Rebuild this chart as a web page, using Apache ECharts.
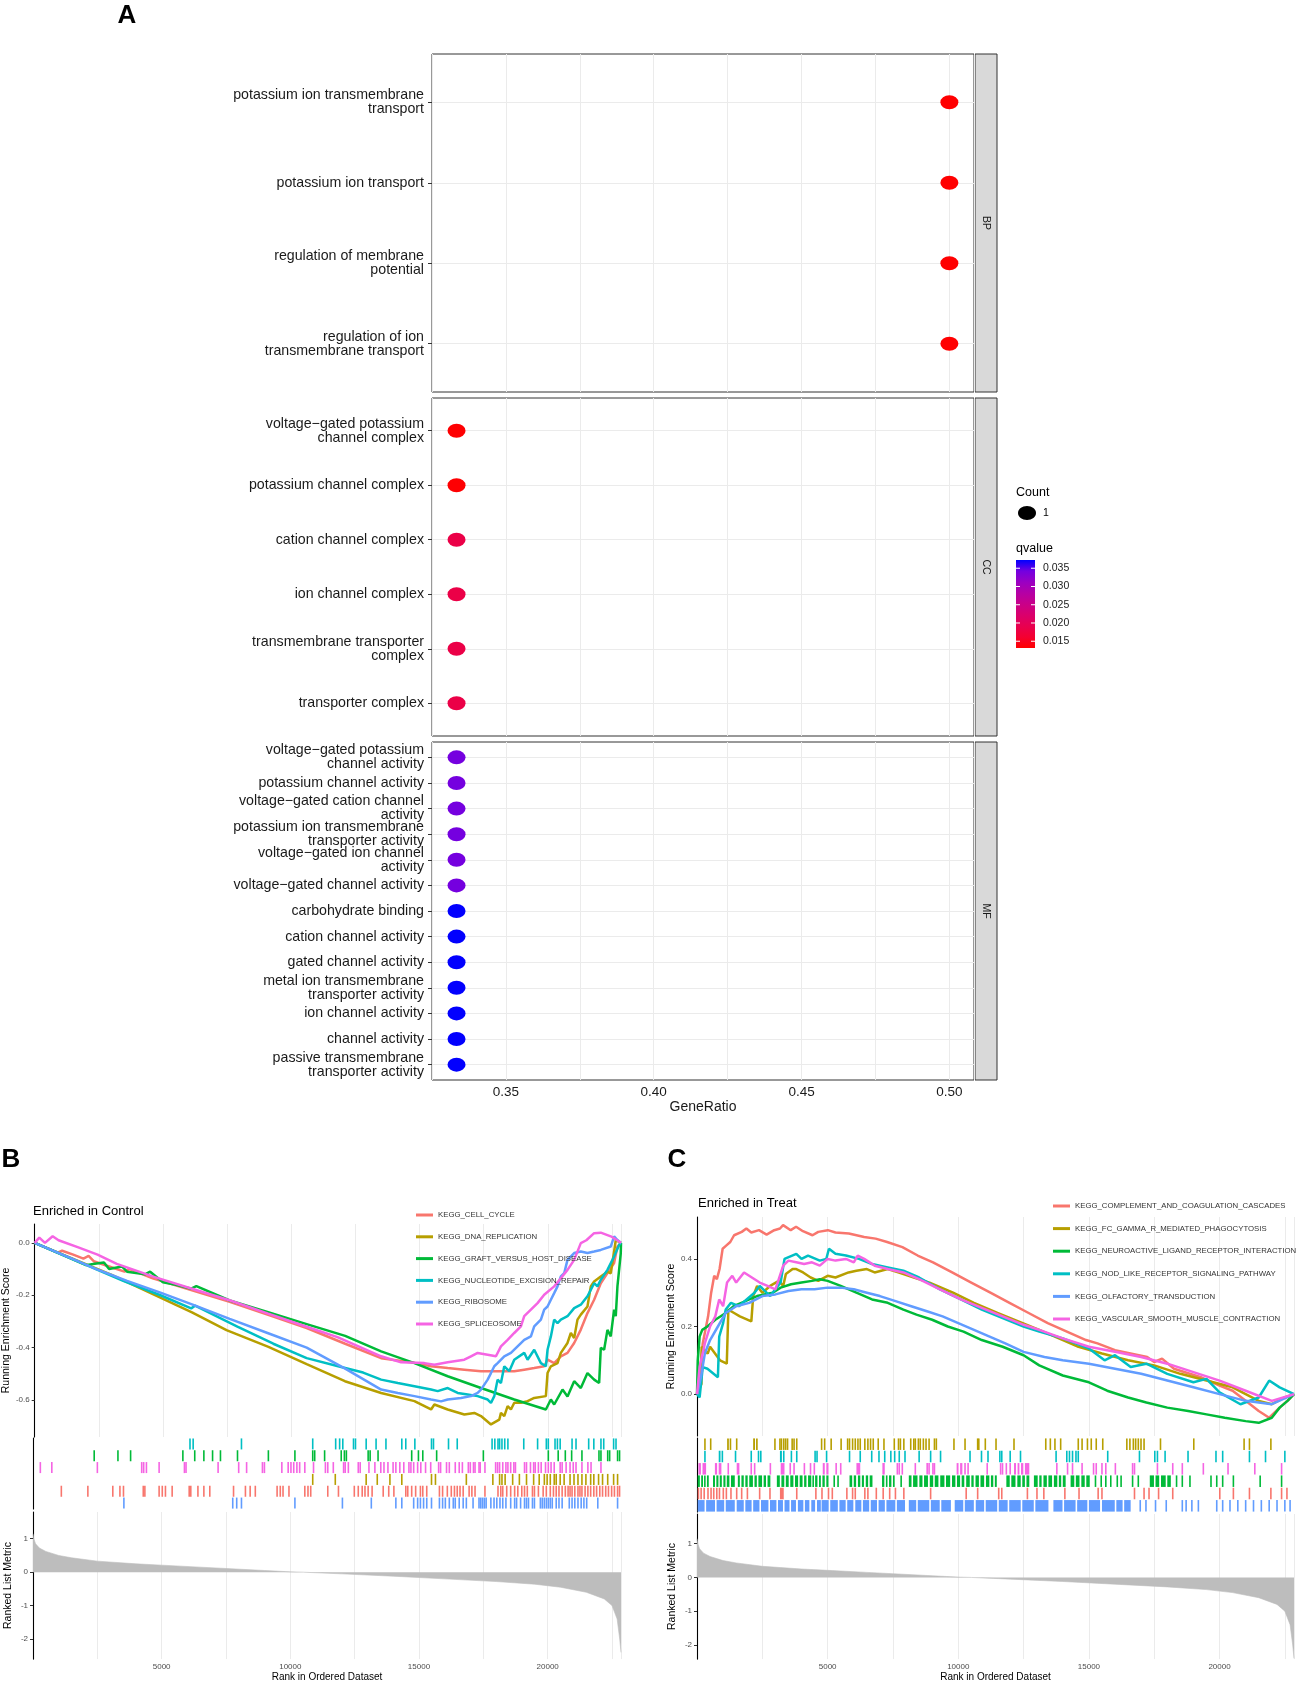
<!DOCTYPE html>
<html><head><meta charset="utf-8">
<script src="https://cdn.jsdelivr.net/npm/echarts@6/dist/echarts.min.js"></script>
<style>html,body{margin:0;padding:0;background:#fff}#c{width:1299px;height:1683px}</style>
</head><body><div id="c"></div>
<script>
// ================= Panel A : GO dot plot =================
const bpTerms = ['potassium ion transmembrane\ntransport','potassium ion transport','regulation of membrane\npotential','regulation of ion\ntransmembrane transport'];
const bpRatio = [0.5,0.5,0.5,0.5];
const bpQ = [0.0132,0.0132,0.0132,0.0132];
const bpCount = [1,1,1,1];

const ccTerms = ['voltage\u2212gated potassium\nchannel complex','potassium channel complex','cation channel complex','ion channel complex','transmembrane transporter\ncomplex','transporter complex'];
const ccRatio = [0.3333,0.3333,0.3333,0.3333,0.3333,0.3333];
const ccQ = [0.0133,0.0133,0.0183,0.0183,0.0183,0.0183];
const ccCount = [1,1,1,1,1,1];

const mfTerms = ['voltage\u2212gated potassium\nchannel activity','potassium channel activity','voltage\u2212gated cation channel\nactivity','potassium ion transmembrane\ntransporter activity','voltage\u2212gated ion channel\nactivity','voltage\u2212gated channel activity','carbohydrate binding','cation channel activity','gated channel activity','metal ion transmembrane\ntransporter activity','ion channel activity','channel activity','passive transmembrane\ntransporter activity'];
const mfRatio = [0.3333,0.3333,0.3333,0.3333,0.3333,0.3333,0.3333,0.3333,0.3333,0.3333,0.3333,0.3333,0.3333];
const mfQ = [0.0341,0.0341,0.0341,0.0341,0.0341,0.0341,0.0372,0.0372,0.0372,0.0372,0.0372,0.0372,0.0372];
const mfCount = [1,1,1,1,1,1,1,1,1,1,1,1,1];

const facetNames = ['BP','CC','MF'];
const geneRatioTicks = [0.35,0.40,0.45,0.50];
const qColors = ['#FF0000','#F40031','#E80050','#DA006C','#C90089','#B500A5','#9A00C3','#7300E0','#0000FF'];
const qMin = 0.01315, qMax = 0.03726;
const qTicks = [0.015,0.020,0.025,0.030,0.035];
const countLevels = [1];

// ================= Panel B : GSEA, Enriched in Control =================
const bNames = ['KEGG_CELL_CYCLE','KEGG_DNA_REPLICATION','KEGG_GRAFT_VERSUS_HOST_DISEASE','KEGG_NUCLEOTIDE_EXCISION_REPAIR','KEGG_RIBOSOME','KEGG_SPLICEOSOME'];
const esCellCycle = [[0,0],[900,-0.037],[1070,-0.03],[1500,-0.045],[1900,-0.06],[2100,-0.05],[2300,-0.07],[2900,-0.09],[3500,-0.11],[3700,-0.1],[4600,-0.135],[6100,-0.18],[7600,-0.225],[9100,-0.275],[10600,-0.325],[12100,-0.385],[13502,-0.44],[14800,-0.458],[15448,-0.471],[16096,-0.478],[16745,-0.484],[17393,-0.49],[18041,-0.49],[18690,-0.49],[19079,-0.484],[19468,-0.478],[19857,-0.471],[19987,-0.446],[20246,-0.459],[20506,-0.433],[20765,-0.42],[21025,-0.382],[21284,-0.331],[21543,-0.268],[21803,-0.217],[22062,-0.154],[22322,-0.115],[22581,-0.077],[22711,-0.014],[22850,0]];
const esDnaReplication = [[0,0],[3000,-0.122],[6130,-0.265],[7475,-0.333],[9110,-0.397],[10600,-0.463],[12090,-0.528],[13502,-0.573],[14800,-0.604],[15448,-0.636],[15577,-0.617],[16096,-0.636],[16745,-0.655],[17133,-0.649],[17393,-0.661],[17782,-0.693],[18106,-0.675],[18171,-0.649],[18301,-0.661],[18431,-0.623],[18560,-0.636],[18690,-0.61],[18949,-0.61],[19209,-0.604],[19468,-0.592],[19922,-0.585],[19987,-0.497],[20117,-0.471],[20376,-0.459],[20506,-0.42],[20765,-0.382],[20895,-0.344],[21025,-0.363],[21154,-0.293],[21284,-0.274],[21543,-0.243],[21673,-0.166],[21803,-0.147],[22062,-0.128],[22322,-0.11],[22451,-0.116],[22581,-0.033],[22646,0.01],[22850,0]];
const esGraft = [[0,0],[2000,-0.085],[2340,-0.08],[2700,-0.075],[2900,-0.1],[3400,-0.09],[3600,-0.11],[4300,-0.12],[4500,-0.11],[5000,-0.15],[5500,-0.16],[6100,-0.175],[6300,-0.165],[7600,-0.22],[9100,-0.265],[10600,-0.31],[12100,-0.355],[13502,-0.414],[14800,-0.459],[16096,-0.509],[17393,-0.554],[18690,-0.598],[19922,-0.636],[20117,-0.598],[20246,-0.617],[20571,-0.56],[20765,-0.586],[21025,-0.528],[21284,-0.554],[21543,-0.497],[21803,-0.522],[21998,-0.535],[22062,-0.401],[22192,-0.408],[22322,-0.332],[22451,-0.357],[22581,-0.255],[22646,-0.28],[22711,-0.166],[22841,-0.04],[22850,0]];
const esNER = [[0,0],[3450,-0.145],[4900,-0.2],[6100,-0.25],[6250,-0.24],[7900,-0.32],[9300,-0.385],[10600,-0.44],[11790,-0.47],[12800,-0.495],[13502,-0.522],[14150,-0.535],[14800,-0.547],[15448,-0.56],[15707,-0.566],[16096,-0.554],[16485,-0.573],[16874,-0.579],[17263,-0.585],[17653,-0.598],[17782,-0.611],[17912,-0.585],[18041,-0.522],[18171,-0.535],[18301,-0.471],[18495,-0.49],[18690,-0.446],[19079,-0.42],[19209,-0.446],[19468,-0.408],[19728,-0.459],[19922,-0.471],[19987,-0.408],[20117,-0.357],[20246,-0.293],[20376,-0.306],[20506,-0.293],[20765,-0.28],[21025,-0.249],[21284,-0.236],[21543,-0.204],[21803,-0.154],[21933,-0.166],[22062,-0.141],[22322,-0.103],[22581,-0.052],[22776,-0.008],[22850,0]];
const esRibosome = [[0,0],[1200,-0.05],[2410,-0.1],[3600,-0.145],[4900,-0.19],[6130,-0.235],[7600,-0.29],[9100,-0.345],[10600,-0.4],[12100,-0.48],[13502,-0.56],[14150,-0.573],[14800,-0.585],[15448,-0.598],[15836,-0.605],[16096,-0.598],[16615,-0.592],[17004,-0.585],[17263,-0.573],[17393,-0.56],[17653,-0.522],[17782,-0.497],[17912,-0.471],[18041,-0.459],[18301,-0.433],[18560,-0.42],[18820,-0.395],[19079,-0.37],[19339,-0.357],[19468,-0.319],[19728,-0.293],[19857,-0.255],[19987,-0.243],[20117,-0.217],[20246,-0.192],[20376,-0.166],[20506,-0.128],[20636,-0.116],[20765,-0.065],[21025,-0.039],[21284,-0.033],[21543,-0.039],[21803,-0.033],[22062,-0.027],[22451,-0.014],[22581,0.025],[22711,0.011],[22850,0]];
const esSpliceosome = [[0,0],[180,0.02],[400,0],[700,0.025],[930,0.01],[1700,-0.017],[2450,-0.045],[3200,-0.08],[4650,-0.13],[6130,-0.175],[7620,-0.22],[9100,-0.27],[10600,-0.32],[11800,-0.36],[13502,-0.433],[14280,-0.456],[15188,-0.459],[15577,-0.465],[16096,-0.456],[16745,-0.446],[17004,-0.433],[17263,-0.42],[17653,-0.427],[17977,-0.433],[18171,-0.395],[18431,-0.37],[18690,-0.344],[18949,-0.319],[19079,-0.28],[19339,-0.255],[19598,-0.23],[19857,-0.198],[20246,-0.166],[20506,-0.135],[20765,-0.103],[21025,-0.065],[21284,-0.001],[21500,0.01],[21803,0.037],[22062,0.039],[22451,0.025],[22776,0.005],[22850,0]];

const hitsNER = [6101,6224,8101,10870,11762,11916,12039,12455,12532,12947,13332,13716,14332,14486,14839,15486,15563,16147,16486,17840,17947,18070,18132,18224,18332,18455,19071,19609,19948,20025,20286,20379,20486,20948,21102,21594,21794,22071,22179,22563,22656];
const hitsGraft = [2378,3301,3793,5824,6285,6640,6978,7285,7947,9147,10178,10870,10947,11332,11978,12101,12178,13024,13101,13409,14716,14978,15147,15686,17501,20025,20409,20686,20932,21332,21994,22071,22333,22409,22717,22794];
const hitsSpliceosome = [285,731,2501,4224,4301,4408,4901,5885,5947,7193,7993,8301,8916,8993,9670,9916,10024,10132,10255,10363,10563,10901,11363,11455,11670,12070,12132,12255,12640,12716,13055,13286,13516,13639,13793,13993,14101,14255,14409,14609,14686,14793,14947,15070,15255,15455,15763,15840,16070,16178,16409,16563,16686,16917,16994,17117,17178,17332,17378,17563,17978,18055,18132,18255,18378,18455,18563,18686,18748,19101,19178,19332,19455,19517,19640,19748,19917,20025,20132,20255,20486,20563,20717,20870,20994,21102,21332,21563,21686,22071];
const hitsDnaReplication = [10870,11747,12947,13378,13870,14332,15486,15640,16840,17870,18132,18224,18347,18640,18901,19178,19455,19671,19871,19979,20102,20255,20332,20486,20640,20870,21024,21178,21332,21486,21671,21794,21978,22133,22333,22563,22717];
const hitsCellCycle = [1101,2132,3101,3378,3516,4285,4347,4901,5024,5147,5408,6070,6132,6409,6640,6870,7793,8255,8439,8639,9486,9609,9716,9947,10563,10686,10793,11455,11870,12486,12640,12793,12901,13024,13178,13609,13824,14024,14486,14563,14716,14870,15055,15147,15301,15794,15917,16101,16255,16378,16486,16594,16717,16948,17055,17178,17563,18070,18178,18255,18409,18563,18717,18840,18994,19101,19209,19409,19486,19640,19825,19948,20102,20225,20332,20440,20563,20686,20794,20870,20948,21055,21178,21255,21332,21455,21563,21671,21794,21902,22025,22133,22256,22363,22486,22594,22717,22794];
const hitsRibosome = [3532,7762,7916,8101,10178,12024,13147,14101,14332,14793,14947,15055,15178,15301,15486,15794,15917,16024,16178,16332,16409,16563,16717,16840,17101,17332,17400,17470,17540,17609,17793,17916,18024,18147,18255,18378,18563,18717,18793,18948,19101,19178,19255,19409,19486,19717,19790,19870,19950,20025,20102,20179,20332,20440,20563,20840,20948,21055,21178,21302,21409,21517,21948,22717];

// ================= Panel C : GSEA, Enriched in Treat =================
const cNames = ['KEGG_COMPLEMENT_AND_COAGULATION_CASCADES','KEGG_FC_GAMMA_R_MEDIATED_PHAGOCYTOSIS','KEGG_NEUROACTIVE_LIGAND_RECEPTOR_INTERACTION','KEGG_NOD_LIKE_RECEPTOR_SIGNALING_PATHWAY','KEGG_OLFACTORY_TRANSDUCTION','KEGG_VASCULAR_SMOOTH_MUSCLE_CONTRACTION'];
const esComplement = [[0,0],[102,0.06],[220,0.15],[322,0.19],[425,0.23],[542,0.3],[659,0.35],[761,0.34],[864,0.37],[981,0.43],[1127,0.44],[1274,0.45],[1420,0.47],[1713,0.48],[1889,0.49],[2079,0.478],[2372,0.485],[2664,0.472],[2957,0.485],[3177,0.49],[3294,0.5],[3587,0.485],[3792,0.495],[4055,0.482],[4421,0.47],[4641,0.48],[5007,0.485],[5300,0.478],[5812,0.475],[6398,0.465],[6837,0.46],[7276,0.45],[7862,0.435],[8447,0.41],[9033,0.39],[9765,0.36],[10497,0.33],[11229,0.3],[11961,0.27],[12693,0.24],[13425,0.21],[14157,0.185],[14889,0.16],[15328,0.15],[16000,0.13],[17231,0.11],[17500,0.095],[17800,0.105],[18256,0.075],[19281,0.05],[20000,0.025],[20500,0.01],[21000,-0.02],[21500,-0.05],[21900,-0.07],[22300,-0.04],[22600,-0.02],[22850,0]];
const esFcGamma = [[0,0],[170,0.03],[176,0.14],[410,0.12],[500,0.14],[880,0.1],[1140,0.09],[1200,0.25],[1420,0.24],[1640,0.23],[2080,0.215],[2150,0.29],[2300,0.32],[2500,0.3],[2800,0.32],[3130,0.335],[3300,0.32],[3400,0.355],[3660,0.37],[3800,0.37],[4060,0.36],[4350,0.345],[4640,0.335],[5000,0.35],[5300,0.345],[5800,0.36],[6100,0.365],[6500,0.37],[6800,0.36],[7300,0.37],[7700,0.36],[8300,0.345],[8900,0.33],[9800,0.3],[10600,0.27],[11500,0.24],[12300,0.215],[13100,0.19],[14600,0.14],[15500,0.12],[16500,0.1],[17500,0.085],[18500,0.06],[19500,0.04],[20500,0.02],[21500,-0.02],[22000,-0.03],[22500,-0.01],[22850,0]];
const esNeuroactive = [[0,0],[30,0.1],[100,0.17],[200,0.19],[400,0.2],[700,0.22],[1100,0.24],[1400,0.26],[1700,0.27],[2000,0.28],[2300,0.29],[2900,0.3],[3200,0.315],[3600,0.325],[4000,0.33],[4400,0.335],[4700,0.34],[5000,0.335],[5500,0.32],[6100,0.3],[6700,0.28],[7300,0.27],[7900,0.25],[8400,0.235],[9000,0.22],[9600,0.2],[10200,0.185],[10900,0.16],[11700,0.14],[12500,0.115],[13100,0.085],[14000,0.055],[15000,0.035],[15700,0.01],[16500,-0.01],[17200,-0.025],[18000,-0.04],[18800,-0.05],[19500,-0.06],[20200,-0.07],[21000,-0.08],[21500,-0.085],[22000,-0.07],[22300,-0.04],[22600,-0.02],[22850,0]];
const esNod = [[0,0],[100,-0.01],[220,0.08],[400,0.075],[800,0.05],[850,0.17],[1000,0.21],[1100,0.25],[1300,0.27],[1600,0.26],[1900,0.28],[2200,0.3],[2400,0.32],[2800,0.29],[3200,0.33],[3350,0.4],[3800,0.415],[4000,0.4],[4250,0.41],[4700,0.395],[4950,0.4],[5050,0.43],[5300,0.415],[5700,0.41],[6200,0.4],[6700,0.385],[7300,0.375],[7900,0.365],[8500,0.345],[9300,0.31],[10100,0.28],[10900,0.25],[11700,0.225],[12500,0.2],[13100,0.185],[14000,0.165],[15000,0.135],[15600,0.1],[16000,0.115],[16600,0.08],[17200,0.09],[18000,0.06],[19000,0.035],[19500,0.045],[20000,0.005],[20800,-0.03],[21500,-0.01],[21900,0.04],[22300,0.02],[22850,0]];
const esOlfactory = [[0,0],[150,0.05],[300,0.12],[500,0.16],[800,0.2],[1100,0.24],[1500,0.26],[2000,0.27],[2500,0.29],[3000,0.295],[3500,0.305],[4000,0.31],[4500,0.31],[5000,0.315],[5500,0.315],[6000,0.31],[6500,0.3],[7000,0.29],[7600,0.275],[8200,0.26],[8800,0.245],[9400,0.23],[10000,0.21],[10600,0.19],[11200,0.17],[11800,0.15],[12500,0.125],[13300,0.11],[14000,0.1],[15000,0.09],[16000,0.075],[17000,0.06],[18000,0.04],[19000,0.02],[20000,0],[21000,-0.02],[22000,-0.03],[22850,0]];
const esVascular = [[0,0],[100,0.08],[300,0.15],[500,0.2],[700,0.23],[850,0.28],[1000,0.26],[1150,0.33],[1350,0.35],[1500,0.33],[1800,0.36],[2100,0.345],[2400,0.33],[2700,0.32],[3000,0.31],[3300,0.38],[3500,0.395],[3800,0.39],[4100,0.385],[4400,0.39],[4700,0.38],[5000,0.4],[5300,0.395],[5700,0.4],[6000,0.39],[6150,0.41],[6400,0.4],[6800,0.38],[7300,0.37],[7900,0.36],[8500,0.34],[9300,0.31],[10100,0.28],[10900,0.255],[11700,0.23],[12500,0.205],[13100,0.19],[14000,0.165],[15000,0.14],[16000,0.125],[17000,0.11],[18000,0.09],[19000,0.065],[20000,0.04],[21000,0.01],[22000,-0.02],[22850,0]];

const hitsFcGamma = [304,524,[1153,1220],[1250,1300],1519,[2149,2220],[2260,2324],2983,3174,3232,3320,3393,3466,3642,3715,3818,4769,4886,5135,5516,5765,5838,5955,6058,6160,6248,6424,6541,6643,6746,6936,7156,7551,7712,7785,7917,8180,8298,8356,8473,8546,8664,8766,8883,9088,9161,9835,10259,10742,10786,11035,11445,12133,13349,13524,13700,13919,14593,14739,14944,15090,15281,15530,16452,16569,16701,16789,16891,16994,17111,17740,19014,20940,21145,21965];
const hitsNod = [304,[831,900],[940,978],1475,2076,2354,2442,[3174,3250],[3290,3349],3613,3818,4520,4594,4960,5838,6248,6687,6965,7185,7419,7566,7741,7961,8502,8942,9322,10450,10889,11138,11592,11665,11987,12382,13744,14154,14256,14373,14505,14593,15720,16935,17521,17623,17916,18794,19864,20120,21145,21760,22500];
const hitsVascular = [[55,150],[210,348],[685,770],[830,934],1197,[1519,1622],2076,2207,2808,[3203,3349],3569,3715,4110,4345,4491,[4813,4890],[4950,5033],5326,5501,[6102,6248],7126,7156,7668,7741,7858,8356,8810,8883,9030,9088,[9937,10010],[10070,10157],10259,10376,11108,11621,11694,11840,11987,[12133,12210],[12270,12340],[12400,12490],[12550,12719],13773,14183,14373,14739,15178,15281,15500,15647,16013,16672,16745,17623,18209,18575,19380,20325,21350,22375];
const hitsNeuroactive = [[26,110],[160,230],[270,330],[380,450],[612,690],[740,820],[870,950],[1010,1090],[1140,1240],[1300,1446],[1563,1640],[1700,1790],[1850,1940],[2000,2140],[2200,2290],[2350,2490],[2550,2640],[2700,2808],[3056,3170],[3230,3340],[3400,3510],[3570,3690],[3750,3870],[3930,4040],[4100,4190],[4250,4374],4447,[4520,4610],[4670,4740],[4800,4890],[4950,5033],5252,5399,[5838,5940],[6000,6090],[6160,6250],[6310,6390],[6460,6550],[6610,6716],[7082,7170],[7230,7290],[7350,7440],[7500,7566],7814,[8107,8210],[8270,8440],[8510,8630],[8690,8840],[8910,9040],[9100,9240],[9310,9470],[9530,9690],[9760,9890],[9950,10070],[10130,10230],[10303,10440],[10500,10590],[10660,10790],[10850,10990],[11060,11190],[11250,11340],[11400,11474],[11840,11970],[12030,12190],[12260,12390],[12450,12550],[12610,12719],[12895,13040],[13100,13190],[13260,13390],[13450,13590],[13660,13790],[13850,13940],[14000,14110],[14300,14440],[14500,14640],[14710,14840],[14900,15032],15252,15471,15647,15837,16086,16232,16672,16891,[17330,17490],[17550,17690],[17760,17940],[18000,18136],18355,18575,18868,19673,19893,20120,20530,21555,22375];
const hitsComplement = [55,158,275,421,538,641,758,860,1007,1124,1300,1519,1710,1929,2398,2793,[3174,3320],3818,4550,4784,5033,5179,5736,5955,6058,6424,6541,6863,7126,7375,7595,7917,8942,10303,10742,11548,11665,12646,13012,13275,14080,14622,15354,15500,16745,17111,17301,17667,18209,20010,20530,21145,21965,22375,22580];
const hitsOlfactory = [[26,290],[350,690],[750,1040],[1100,1446],[1519,1790],[1850,2090],[2150,2390],[2450,2734],[2793,3040],[3100,3290],[3350,3540],[3600,3788],[3862,4070],[4130,4301],[4374,4520],[4594,4740],[4769,5040],[5100,5390],[5450,5690],[5750,5984],[6058,6290],[6350,6590],[6650,6890],[6950,7190],[7250,7590],[7650,7961],[8107,8390],[8450,8890],[8950,9290],[9350,9718],[9864,10190],[10250,10596],[10669,10990],[11050,11490],[11550,11890],[11950,12390],[12450,12890],[12950,13451],[13641,13990],[14050,14490],[14550,14940],[15000,15427],[15500,15990],[16050,16290],[16350,16598],16965,17184,17550,17960,18575,18721,18941,19190,19893,20120,20400,20700,21000,21300,21600,21900,22200,22500,22700];

// ranked list metric (shared dataset)
const rankedMetric = [[0,1.15],[30,1.0],[100,0.85],[250,0.72],[500,0.62],[1000,0.5],[1500,0.43],[2500,0.33],[4000,0.25],[5000,0.21],[6500,0.15],[7500,0.11],[9000,0.05],[10000,0.01],[10500,0],[12000,-0.05],[14000,-0.12],[16000,-0.2],[18000,-0.28],[19500,-0.36],[20500,-0.45],[21500,-0.6],[22200,-0.8],[22500,-1.0],[22700,-1.4],[22800,-2.0],[22850,-2.4]];
const rankMax = 22850;
const rankTicks = [5000,10000,15000,20000];
const bEsTicks = [0,-0.2,-0.4,-0.6];
const cEsTicks = [0,0.2,0.4];
const metricTicks = [1,0,-1,-2];

const pal = ['#F8766D','#B79F00','#00BA38','#00BFC4','#619CFF','#F564E3'];

// ================= build chart =================
const FF = '"Liberation Sans", Arial, Helvetica, sans-serif';
const chart = echarts.init(document.getElementById('c'), null, {renderer:'canvas', width:1299, height:1683});

const grids = [
  {left:432, top:54,  width:542, height:338},
  {left:432, top:398, width:542, height:338},
  {left:432, top:742, width:542, height:338},
  {left:33,  top:1224, width:588, height:213},
  {left:33,  top:1438, width:588, height:71},
  {left:33,  top:1512, width:588, height:150},
  {left:697, top:1217, width:597, height:219},
  {left:697, top:1438, width:597, height:74},
  {left:697, top:1514, width:597, height:149}
].map((g,i)=>Object.assign(g, i<3 ? {show:true, borderColor:'#333333', borderWidth:1, backgroundColor:'#fff'} : {show:false}));

function gxA(i, showLabels){
  return {gridIndex:i, type:'value', min:0.325, max:0.50833, interval:0.025,
    axisLine:{show:false}, axisTick:{show:false},
    axisLabel:{show:showLabels, fontFamily:FF, fontSize:13.5, color:'#1a1a1a', margin:5,
      formatter:v=>{ const k=geneRatioTicks.find(t=>Math.abs(t-v)<1e-6); return k===undefined?'':k.toFixed(2);} },
    splitLine:{show:true, lineStyle:{color:'#EBEBEB', width:1}},
    name: showLabels?'GeneRatio':'', nameLocation:'middle', nameGap:19,
    nameTextStyle:{fontFamily:FF, fontSize:14, color:'#1a1a1a'}};
}
function gyA(i, terms){
  const vals = terms.map((t,k)=>k+1);
  return {gridIndex:i, type:'value', inverse:true, min:0.4, max:terms.length+0.6,
    axisLine:{show:false},
    axisTick:{show:true, length:4, customValues:vals, lineStyle:{color:'#333'}},
    axisLabel:{show:true, customValues:vals, formatter:v=>terms[Math.round(v)-1]||'', fontFamily:FF, fontSize:14.2, lineHeight:14, color:'#1a1a1a', margin:8},
    splitLine:{show:true, lineStyle:{color:'#EBEBEB', width:1}}};
}
function gxR(i, grid, showLabels){
  return {gridIndex:i, type:'value', min:0, max:rankMax, interval:2500,
    axisLine:{show:false}, axisTick:{show:false},
    axisLabel:{show:showLabels, fontFamily:FF, fontSize:8, color:'#4D4D4D', margin:4,
      formatter:v=>rankTicks.indexOf(v)>=0?String(v):''},
    splitLine:{show:grid, lineStyle:{color:'#EBEBEB', width:1}},
    name: showLabels?'Rank in Ordered Dataset':'', nameLocation:'middle', nameGap:12,
    nameTextStyle:{fontFamily:FF, fontSize:10, color:'#000'}};
}
function gyR(i, min, max, ticks, fmt, name){
  return {gridIndex:i, type:'value', min:min, max:max,
    axisLine:{show:true, lineStyle:{color:'#000', width:1.1}},
    axisTick:{show:ticks.length>0, length:3, customValues:ticks, lineStyle:{color:'#333'}},
    axisLabel:{show:ticks.length>0, customValues:ticks, formatter:fmt, fontFamily:FF, fontSize:8, color:'#4D4D4D', margin:5},
    splitLine:{show:false},
    name:name||'', nameLocation:'middle', nameGap:19,
    nameTextStyle:{fontFamily:FF, fontSize:10.5, color:'#000'}};
}
function gyTicks(i){
  return {gridIndex:i, type:'value', min:0, max:6, inverse:true,
    axisLine:{show:true, lineStyle:{color:'#000', width:1.1}}, axisTick:{show:false}, axisLabel:{show:false}, splitLine:{show:false}};
}

const xAxes = [gxA(0,false), gxA(1,false), gxA(2,true),
  gxR(3,true,false), gxR(4,false,false), gxR(5,true,true),
  gxR(6,true,false), gxR(7,false,false), gxR(8,true,true)];
const yAxes = [gyA(0,bpTerms), gyA(1,ccTerms), gyA(2,mfTerms),
  gyR(3,-0.741,0.072,bEsTicks,v=>v.toFixed(1),'Running Enrichment Score'),
  gyTicks(4),
  gyR(5,-2.6,1.8,metricTicks,v=>String(v),'Ranked List Metric'),
  gyR(6,-0.124,0.524,cEsTicks,v=>v.toFixed(1),'Running Enrichment Score'),
  gyTicks(7),
  gyR(8,-2.42,1.88,metricTicks,v=>String(v),'Ranked List Metric')];

function facetSeries(idx, ratios, qs, counts){
  return {type:'scatter', xAxisIndex:idx, yAxisIndex:idx, z:4, symbol:'circle', symbolSize:[18,14],
    data: ratios.map((r,k)=>[r, k+1, qs[k], counts[k]]), itemStyle:{opacity:1}, silent:true};
}
function esSeries(name, data, color, idx){
  return {type:'line', name:name, xAxisIndex:idx, yAxisIndex:idx, data:data, showSymbol:false, symbol:'none',
    lineStyle:{color:color, width:2.5}, itemStyle:{color:color}, z:3, silent:true};
}
function hitsSeries(sets, idx){
  const data = [];
  sets.forEach((s,row)=>{ s.hits.forEach(h=>{ const a=Array.isArray(h)?h[0]:h, b=Array.isArray(h)?h[1]:h; data.push([a,b,row,s.color]); }); });
  return {type:'custom', xAxisIndex:idx, yAxisIndex:idx, silent:true, encode:{x:[0,1], y:2},
    dimensions:['a','b','row','color'],
    data:data,
    renderItem:(params, api)=>{
      const a=api.value(0), b=api.value(1), r=api.value(2), col=data[params.dataIndex][3];
      const p1=api.coord([a,r]), p2=api.coord([b,r+1]);
      let x1, w;
      if (b > a) { x1 = p1[0]; w = Math.max(p2[0]-p1[0], 1.6); }
      else { x1 = p1[0]-0.8; w = 1.6; }
      const y1=Math.min(p1[1],p2[1]), h=Math.abs(p2[1]-p1[1]);
      return {type:'rect', shape:{x:x1, y:y1+0.4, width:w, height:h-0.8}, style:{fill:col}};
    }};
}
function metricSeries(idx){
  return {type:'line', xAxisIndex:idx, yAxisIndex:idx, data:rankedMetric, showSymbol:false, symbol:'none',
    lineStyle:{width:0.6, color:'#BDBDBD'}, areaStyle:{color:'#BDBDBD', opacity:1}, silent:true, z:2};
}

const bEs = [esCellCycle, esDnaReplication, esGraft, esNER, esRibosome, esSpliceosome];
const cEs = [esComplement, esFcGamma, esNeuroactive, esNod, esOlfactory, esVascular];

const series = [
  facetSeries(0,bpRatio,bpQ,bpCount),
  facetSeries(1,ccRatio,ccQ,ccCount),
  facetSeries(2,mfRatio,mfQ,mfCount)
];
bNames.forEach((n,k)=>series.push(esSeries(n,bEs[k],pal[k],3)));
series.push(hitsSeries([
  {hits:hitsNER,color:pal[3]},{hits:hitsGraft,color:pal[2]},{hits:hitsSpliceosome,color:pal[5]},
  {hits:hitsDnaReplication,color:pal[1]},{hits:hitsCellCycle,color:pal[0]},{hits:hitsRibosome,color:pal[4]}],4));
series.push(metricSeries(5));
cNames.forEach((n,k)=>series.push(esSeries(n,cEs[k],pal[k],6)));
series.push(hitsSeries([
  {hits:hitsFcGamma,color:pal[1]},{hits:hitsNod,color:pal[3]},{hits:hitsVascular,color:pal[5]},
  {hits:hitsNeuroactive,color:pal[2]},{hits:hitsComplement,color:pal[0]},{hits:hitsOlfactory,color:pal[4]}],7));
series.push(metricSeries(8));

// ----- graphic: labels, facet strips, panel-A legend -----
const graphic = [];
function label(x,y,s,size,bold,align){
  graphic.push({type:'text', x:x, y:y, silent:true,
    style:{text:s, fontFamily:FF, fontSize:size, fontWeight:bold?'bold':'normal', fill:'#000', align:align||'left', verticalAlign:'middle'}});
}
label(127,16,'A',26,true,'center');
label(11,1160,'B',26,true,'center');
label(677,1160,'C',26,true,'center');
label(33,1211,'Enriched in Control',13,false);
label(698,1203,'Enriched in Treat',13,false);

// facet strips
[0,1,2].forEach(k=>{
  const g = grids[k];
  graphic.push({type:'rect', silent:true, shape:{x:g.left+g.width+1, y:g.top, width:22, height:g.height},
    style:{fill:'#D9D9D9', stroke:'#333333', lineWidth:1}});
  graphic.push({type:'text', silent:true, x:g.left+g.width+12, y:g.top+g.height/2, rotation:-Math.PI/2,
    style:{text:facetNames[k], fontFamily:FF, fontSize:10.5, fill:'#1a1a1a', align:'center', verticalAlign:'middle'}});
});

// Count legend
label(1016,493,'Count',12.5,false);
countLevels.forEach((c,k)=>{
  graphic.push({type:'ellipse', silent:true, shape:{cx:1027, cy:513+k*20, rx:9, ry:7}, style:{fill:'#000'}});
  graphic.push({type:'text', x:1043, y:513+k*20, silent:true, style:{text:String(c), fontFamily:FF, fontSize:10.5, fill:'#000', align:'left', verticalAlign:'middle'}});
});
// qvalue colour bar
const barX=1016, barY=560, barW=19, barH=88;
label(1016,549,'qvalue',12.5,false);
graphic.push({type:'rect', silent:true, shape:{x:barX, y:barY, width:barW, height:barH},
  style:{fill:new echarts.graphic.LinearGradient(0,1,0,0, qColors.map((c,k)=>({offset:k/(qColors.length-1), color:c})))}});
qTicks.forEach(v=>{
  const y = barY + barH - (v-qMin)/(qMax-qMin)*barH;
  graphic.push({type:'line', silent:true, shape:{x1:barX, y1:y, x2:barX+4, y2:y}, style:{stroke:'#fff', lineWidth:1}});
  graphic.push({type:'line', silent:true, shape:{x1:barX+barW-4, y1:y, x2:barX+barW, y2:y}, style:{stroke:'#fff', lineWidth:1}});
  graphic.push({type:'text', x:1043, y:y, silent:true, style:{text:v.toFixed(3), fontFamily:FF, fontSize:10.5, fill:'#1a1a1a', align:'left', verticalAlign:'middle'}});
});

const option = {
  animation:false,
  backgroundColor:'#fff',
  grid:grids, xAxis:xAxes, yAxis:yAxes,
  visualMap:[{type:'continuous', show:false, min:qMin, max:qMax, dimension:2, seriesIndex:[0,1,2], inRange:{color:qColors}}],
  legend:[
    {data:bNames, orient:'vertical', left:416, top:1210, padding:0, itemWidth:17, itemHeight:3, itemGap:11.8, icon:'rect', selectedMode:false,
      textStyle:{fontFamily:FF, fontSize:7.8, lineHeight:10, color:'#333'}},
    {data:cNames, orient:'vertical', left:1053, top:1201, padding:0, itemWidth:17, itemHeight:3, itemGap:12.6, icon:'rect', selectedMode:false,
      textStyle:{fontFamily:FF, fontSize:7.8, lineHeight:10, color:'#333'}}
  ],
  series:series,
  graphic:graphic
};
chart.setOption(option);
</script>
</body></html>
